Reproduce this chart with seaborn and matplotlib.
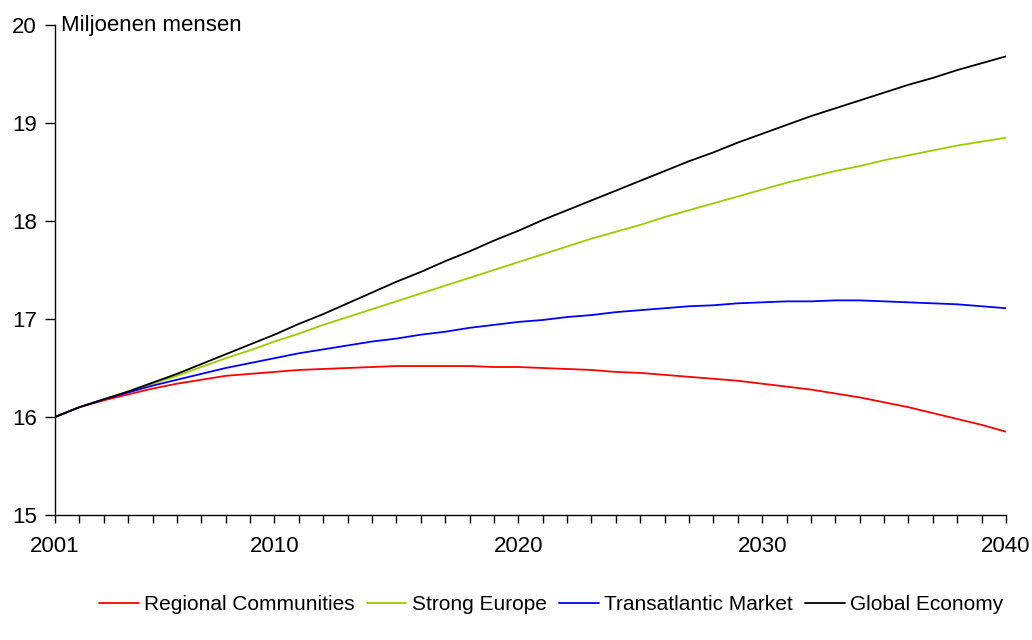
import matplotlib
matplotlib.use('Agg')
import matplotlib.pyplot as plt
from matplotlib.ticker import FixedLocator, MultipleLocator
import numpy as np
import pandas as pd
import seaborn as sns

years = list(range(2001, 2041))

regional = [16.00, 16.10, 16.17, 16.23, 16.29, 16.34, 16.38, 16.42, 16.44, 16.46,
            16.48, 16.49, 16.50, 16.51, 16.52, 16.52, 16.52, 16.52, 16.51, 16.51,
            16.50, 16.49, 16.48, 16.46, 16.45, 16.43, 16.41, 16.39, 16.37, 16.34,
            16.31, 16.28, 16.24, 16.20, 16.15, 16.10, 16.04, 15.98, 15.92, 15.85]

strong_europe = [16.00, 16.10, 16.18, 16.26, 16.34, 16.42, 16.51, 16.60, 16.68, 16.77,
                 16.85, 16.94, 17.02, 17.10, 17.18, 17.26, 17.34, 17.42, 17.50, 17.58,
                 17.66, 17.74, 17.82, 17.89, 17.96, 18.04, 18.11, 18.18, 18.25, 18.32,
                 18.39, 18.45, 18.51, 18.56, 18.62, 18.67, 18.72, 18.77, 18.81, 18.85]

transatlantic = [16.00, 16.10, 16.18, 16.25, 16.32, 16.38, 16.44, 16.50, 16.55, 16.60,
                 16.65, 16.69, 16.73, 16.77, 16.80, 16.84, 16.87, 16.91, 16.94, 16.97,
                 16.99, 17.02, 17.04, 17.07, 17.09, 17.11, 17.13, 17.14, 17.16, 17.17,
                 17.18, 17.18, 17.19, 17.19, 17.18, 17.17, 17.16, 17.15, 17.13, 17.11]

global_economy = [16.00, 16.10, 16.18, 16.26, 16.35, 16.44, 16.54, 16.64, 16.74, 16.84,
                  16.95, 17.05, 17.16, 17.27, 17.38, 17.48, 17.59, 17.69, 17.80, 17.90,
                  18.01, 18.11, 18.21, 18.31, 18.41, 18.51, 18.61, 18.70, 18.80, 18.89,
                  18.98, 19.07, 19.15, 19.23, 19.31, 19.39, 19.46, 19.54, 19.61, 19.68]

scenarios = ['Regional Communities', 'Strong Europe', 'Transatlantic Market', 'Global Economy']
colors = ['#FF0000', '#99CC00', '#0000FF', '#000000']
x_labels = [2001, 2010, 2020, 2030, 2040]

df = pd.DataFrame({'jaar': years * 4,
                   'mensen': regional + strong_europe + transatlantic + global_economy,
                   'scenario': np.repeat(scenarios, len(years))})

sns.set_style('ticks')
plt.rcParams['font.family'] = ['Liberation Sans', 'DejaVu Sans']
plt.rcParams.update({'text.color': 'black', 'xtick.color': 'black',
                     'ytick.color': 'black', 'axes.labelcolor': 'black'})

fig = plt.figure(figsize=(10.32, 6.4), dpi=100)
ax = fig.add_axes([55 / 1032, 1 - 515 / 640, 951 / 1032, 490 / 640])

sns.lineplot(data=df, x='jaar', y='mensen', hue='scenario', hue_order=scenarios,
             palette=colors, linewidth=1.3, ax=ax, legend=False)

ax.set_xlim(2001, 2040)
ax.set_ylim(15, 20)
ax.xaxis.set_major_locator(FixedLocator(x_labels))
ax.xaxis.set_minor_locator(MultipleLocator(1))
ax.yaxis.set_major_locator(MultipleLocator(1))
ax.tick_params(axis='x', which='both', direction='out', length=6, width=1,
               labelsize=16, pad=9, color='black', labelcolor='black')
ax.tick_params(axis='y', which='major', direction='out', length=7, width=1,
               labelsize=16, pad=6, color='black', labelcolor='black')
ax.set_xlabel('')
ax.set_ylabel('')
sns.despine(ax=ax)
for s in ['left', 'bottom']:
    ax.spines[s].set_linewidth(1)
    ax.spines[s].set_color('black')

ax.text(0.006, 1.0, 'Miljoenen mensen', transform=ax.transAxes,
        fontsize=16, va='center', ha='left', color='black')

handles = [plt.Line2D([], [], color=c, linewidth=1.3) for c in colors]
fig.legend(handles, scenarios, loc='center', bbox_to_anchor=(551 / 1032, 1 - 605 / 640),
           ncol=4, frameon=False, handlelength=1.9, handletextpad=0.25,
           columnspacing=0.6, labelcolor='black',
           prop={'family': ['Liberation Sans', 'DejaVu Sans'], 'size': 15})

fig.savefig('out.png', dpi=100)
